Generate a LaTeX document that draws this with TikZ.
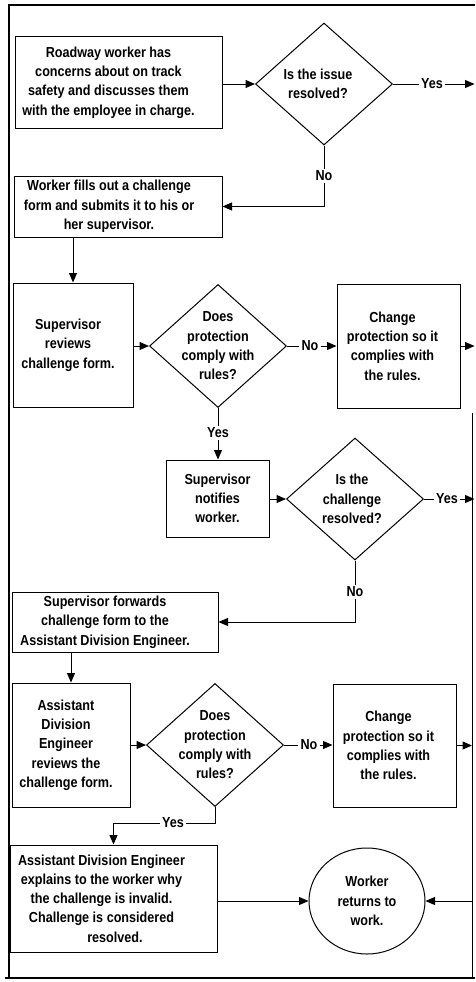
\documentclass[tikz,border=0pt]{standalone}
\usepackage{fontspec}
\setmainfont{Liberation Sans}[FakeStretch=0.87]
\usetikzlibrary{arrows.meta,shapes.geometric}
\begin{document}
\begin{tikzpicture}[x=1pt,y=-1pt,
  txt/.style={font=\fontsize{14.5}{19.3}\selectfont\bfseries, align=center, inner sep=0pt},
  box/.style={draw, line width=1pt, inner sep=0pt},
  dia/.style={draw, line width=1pt, diamond, minimum width=137pt, minimum height=122pt, inner sep=0pt},
  lab/.style={font=\fontsize{14.5}{16}\selectfont\bfseries, inner sep=2pt},
  conn/.style={line width=1pt},
  arr/.style={conn, -{Triangle[length=9.5pt,width=8pt]}}]
\useasboundingbox (0,0) rectangle (475,982);
% frame
\coordinate (fa) at (9,977);
\coordinate (fb) at (9,5);
\coordinate (fc) at (475,5);
\coordinate (fd) at (5,977.5);
\coordinate (fe) at (475,977.5);
\draw[line width=2.2pt] (fa) -- (fb) -- (fc);
\draw[line width=2pt] (fd) -- (fe);
\coordinate (redge) at (474.5,0);
% boxes
\node[box, minimum width=207pt, minimum height=91pt,
  label={[txt,name=b1t,xshift=-10pt]center:{Roadway worker has\\concerns about on track\\safety and discusses them\\with the employee in charge.}}] (b1) at (118.5,82.5) {};
\node[dia, label={[txt,name=d1t,xshift=-6pt]center:{Is the issue\\resolved?}}] (d1) at (324,84) {};
\node[lab] (y1) at (432,84) {Yes};
\node[lab] (n1) at (324,176) {No};
\node[box, minimum width=208pt, minimum height=61pt,
  label={[txt,name=b2t,xshift=-9pt]center:{Worker fills out a challenge\\form and submits it to his or\\her supervisor.}}] (b2) at (118,206.5) {};
\node[box, minimum width=120pt, minimum height=124pt,
  label={[txt,name=b3t,xshift=-5pt]center:{Supervisor\\reviews\\challenge form.}}] (b3) at (73,345) {};
\node[dia, minimum height=123pt, label={[txt,name=d2t]center:{Does\\protection\\comply with\\rules?}}] (d2) at (218,346) {};
\node[lab] (n2) at (310,346) {No};
\node[box, minimum width=123pt, minimum height=124pt,
  label={[txt,name=b4t,xshift=-6pt]center:{Change\\protection so it\\complies with\\the rules.}}] (b4) at (398.5,346) {};
\node[lab] (y2) at (218,433) {Yes};
\node[box, minimum width=103pt, minimum height=77pt,
  label={[txt,name=b5t]center:{Supervisor\\notifies\\worker.}}] (b5) at (217.5,498.5) {};
\node[dia, label={[txt,name=d3t,xshift=-3pt]center:{Is the\\challenge\\resolved?}}] (d3) at (355,499) {};
\node[lab] (y3) at (447,499) {Yes};
\node[lab] (n3) at (355,592) {No};
\node[box, minimum width=206pt, minimum height=60pt,
  label={[txt,name=b6t,xshift=-10pt]center:{Supervisor forwards\\challenge form to the\\Assistant Division Engineer.}}] (b6) at (115,622) {};
\node[box, minimum width=118pt, minimum height=124pt,
  label={[txt,name=b7t,xshift=-5pt]center:{Assistant\\Division\\Engineer\\reviews the\\challenge form.}}] (b7) at (71,745) {};
\node[dia, minimum height=123pt, label={[txt,name=d4t]center:{Does\\protection\\comply with\\rules?}}] (d4) at (215,745) {};
\node[lab] (n4) at (309,745) {No};
\node[box, minimum width=123pt, minimum height=123pt,
  label={[txt,name=b8t,xshift=-6pt]center:{Change\\protection so it\\complies with\\the rules.}}] (b8) at (394.5,745.5) {};
\node[lab] (y4) at (173,823) {Yes};
\node[box, minimum width=207pt, minimum height=107pt,
  label={[txt,name=b9t,xshift=-12pt]center:{Assistant Division Engineer\\explains to the worker why\\the challenge is invalid.\\Challenge is considered\\\hspace*{27pt}resolved.}}] (b9) at (113.5,898.5) {};
\node[draw, line width=1pt, ellipse, minimum width=116pt, minimum height=106pt, inner sep=0pt,
  label={[txt,name=et]center:{Worker\\returns to\\work.}}] (end) at (367,901) {};
% collector on the right
\coordinate (c1) at (472,413);
\coordinate (c2) at (472,978);
\coordinate (cj) at (472,901);
% connectors
\draw[arr] (b1.east |- d1.west) -- (d1.west);
\draw[conn] (d1.east) -- (y1.west);
\draw[arr] (y1.east) -- (y1.east -| redge);
\draw[conn] (d1.south) -- (n1.north);
\draw[arr] (n1.south) |- (b2.east);
\draw[arr] (b2.south -| b3.north) -- (b3.north);
\draw[arr] (b3.east |- d2.west) -- (d2.west);
\draw[conn] (d2.east) -- (n2.west);
\draw[arr] (n2.east) -- (n2.east -| b4.west);
\draw[arr] (b4.east) -- (b4.east -| redge);
\draw[conn] (d2.south) -- (y2.north);
\draw[arr] (y2.south) -- (y2.south |- b5.north);
\draw[arr] (b5.east |- d3.west) -- (d3.west);
\draw[conn] (d3.east) -- (y3.west);
\draw[arr] (y3.east) -- (y3.east -| redge);
\draw[conn] (d3.south) -- (n3.north);
\draw[arr] (n3.south) |- (b6.east);
\draw[arr] (b6.south -| b7.north) -- (b7.north);
\draw[arr] (b7.east |- d4.west) -- (d4.west);
\draw[conn] (d4.east) -- (n4.west);
\draw[arr] (n4.east) -- (n4.east -| b8.west);
\draw[arr] (b8.east) -- (b8.east -| c1);
\draw[conn] (d4.south) |- (y4.east);
\draw[arr] (y4.west) -| (b9.north);
\draw[arr] (b9.east |- end.west) -- (end.west);
\draw[conn] (c1) -- (c2);
\draw[arr] (cj) -- (end.east);
\end{tikzpicture}
\end{document}
